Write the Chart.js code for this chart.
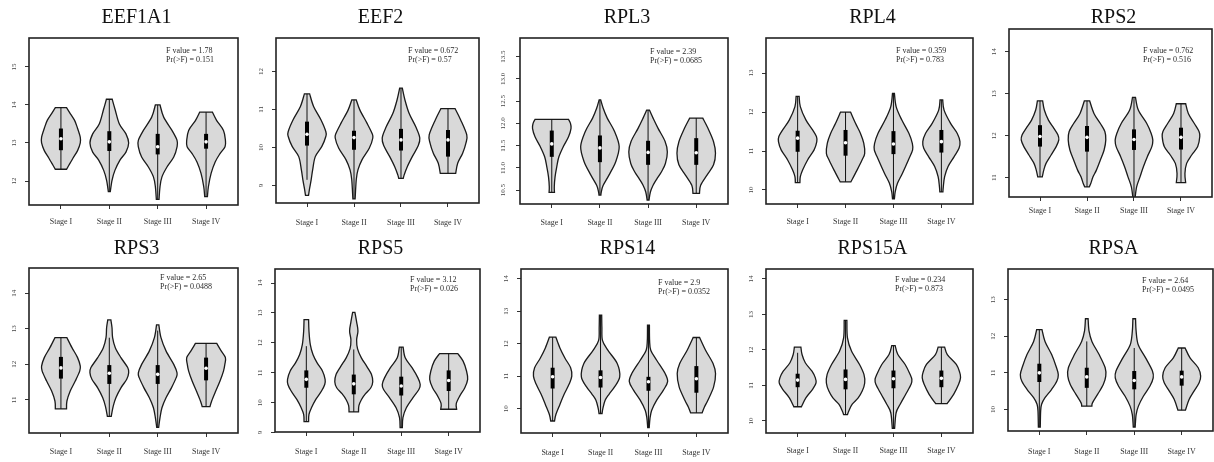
<!DOCTYPE html>
<html>
<head>
<meta charset="utf-8">
<script src="https://cdn.jsdelivr.net/npm/chart.js@4.4.1/dist/chart.umd.min.js"></script>
<style>
  html, body { margin: 0; padding: 0; background: #fff; overflow: hidden; }
  #wrap { position: relative; width: 1214px; height: 462px; }
  #wrap canvas { position: absolute; }
</style>
</head>
<body>
<div id="wrap"></div>
<script>
const genes = ['EEF1A1', 'EEF2', 'RPL3', 'RPL4', 'RPS2', 'RPS3', 'RPS5', 'RPS14', 'RPS15A', 'RPSA'];
const stages = ['Stage I', 'Stage II', 'Stage III', 'Stage IV'];
const fValues = ['1.78', '0.672', '2.39', '0.359', '0.762', '2.65', '3.12', '2.9', '0.234', '2.64'];
const pValues = ['0.151', '0.57', '0.0685', '0.783', '0.516', '0.0488', '0.026', '0.0352', '0.873', '0.0495'];

const yTickLabels = [
  ['12', '13', '14', '15'],
  ['9', '10', '11', '12'],
  ['10.5', '11.0', '11.5', '12.0', '12.5', '13.0', '13.5'],
  ['10', '11', '12', '13'],
  ['11', '12', '13', '14'],
  ['11', '12', '13', '14'],
  ['9', '10', '11', '12', '13', '14'],
  ['10', '11', '12', '13', '14'],
  ['10', '11', '12', '13', '14'],
  ['10', '11', '12', '13']
];
const yMin = [11.37, 8.54, 10.19, 9.64, 10.54, 10.07, 9.02, 9.25, 9.66, 9.41];
const yMax = [15.76, 12.88, 13.92, 13.9, 14.54, 14.71, 14.47, 14.3, 14.28, 13.84];

// violin outline per stage: [expression, relative half width], bottom to top
// box per stage: [whisker low, Q1, median, Q3, whisker high]
const eef1a1Violins = [
  [[12.31, .29], [12.45, .45], [12.6, .62], [12.8, .86], [13.0, 1], [13.15, 1], [13.4, .85], [13.6, .7], [13.8, .45], [13.93, .29]],
  [[11.72, .05], [12.02, .14], [12.28, .29], [12.55, .55], [12.76, .86], [13.0, 1], [13.24, .86], [13.5, .52], [13.86, .31], [14.15, .15]],
  [[11.52, .07], [11.85, .12], [12.11, .22], [12.37, .48], [12.63, .83], [12.9, 1], [13.07, 1], [13.33, .74], [13.68, .31], [14.0, .12]],
  [[11.59, .07], [11.85, .12], [12.2, .26], [12.5, .47], [12.72, .72], [12.9, .98], [13.07, 1], [13.33, .9], [13.59, .55], [13.81, .33]]
];
const eef1a1Boxes = [[12.31, 12.81, 13.11, 13.38, 13.93], [11.72, 12.79, 13.03, 13.31, 14.15], [11.52, 12.7, 12.9, 13.24, 14.0], [11.59, 12.85, 13.03, 13.24, 13.81]];

const eef2Violins = [
  [[8.74, .08], [8.93, .14], [9.15, .22], [9.41, .3], [9.76, .44], [10.03, .79], [10.29, 1], [10.42, 1], [10.73, .74], [11.08, .35], [11.41, .14]],
  [[8.65, .06], [9.15, .12], [9.41, .21], [9.68, .43], [9.98, .81], [10.25, 1], [10.38, .95], [10.64, .69], [10.99, .31], [11.25, .12]],
  [[9.19, .12], [9.28, .17], [9.5, .34], [9.76, .6], [10.03, .9], [10.25, 1], [10.55, .78], [10.9, .43], [11.25, .21], [11.56, .07]],
  [[9.32, .41], [9.59, .52], [9.85, .78], [10.11, .95], [10.33, 1], [10.73, .67], [11.02, .38]]
];
const eef2Boxes = [[9.15, 10.05, 10.35, 10.68, 11.41], [8.65, 9.94, 10.26, 10.44, 11.25], [9.19, 9.92, 10.2, 10.49, 11.56], [9.32, 9.76, 10.2, 10.46, 11.02]];

const rpl3Violins = [
  [[10.45, .14], [10.58, .13], [10.8, .17], [11.03, .26], [11.25, .37], [11.48, .6], [11.7, .87], [11.89, 1], [12.0, .97], [12.09, .87]],
  [[10.39, .05], [10.46, .07], [10.61, .17], [10.84, .47], [11.14, .82], [11.48, 1], [11.82, .76], [12.12, .38], [12.34, .17], [12.53, .04]],
  [[10.28, .05], [10.46, .12], [10.61, .26], [10.75, .45], [10.91, .69], [11.1, .9], [11.36, 1], [11.6, .88], [11.89, .52], [12.12, .26], [12.3, .07]],
  [[10.43, .17], [10.61, .23], [10.84, .56], [11.07, .9], [11.33, 1], [11.59, .9], [11.89, .61], [12.12, .34]]
];
const rpl3Boxes = [[10.45, 11.25, 11.54, 11.84, 12.09], [10.39, 11.13, 11.45, 11.73, 12.53], [10.28, 11.07, 11.35, 11.61, 12.3], [10.43, 11.07, 11.34, 11.67, 12.12]];

const rpl4Violins = [
  [[10.19, .12], [10.34, .14], [10.51, .26], [10.77, .52], [11.03, .86], [11.24, 1], [11.37, .98], [11.54, .78], [11.8, .43], [12.14, .14], [12.4, .08]],
  [[10.21, .28], [10.51, .6], [10.77, .86], [10.94, 1], [11.2, .95], [11.45, .78], [11.71, .52], [12.0, .26]],
  [[9.77, .05], [9.95, .09], [10.17, .21], [10.43, .47], [10.77, .78], [11.03, 1], [11.2, .98], [11.45, .81], [11.8, .43], [12.14, .14], [12.48, .05]],
  [[9.95, .08], [10.08, .1], [10.34, .17], [10.6, .35], [10.85, .66], [11.07, .92], [11.24, .97], [11.45, .83], [11.71, .48], [12.05, .14], [12.31, .07]]
];
const rpl4Boxes = [[10.19, 10.98, 11.33, 11.52, 12.4], [10.21, 10.88, 11.21, 11.54, 12.0], [9.77, 10.92, 11.18, 11.51, 12.48], [9.95, 10.96, 11.24, 11.54, 12.31]];

const rps2Violins = [
  [[11.02, .12], [11.18, .2], [11.34, .32], [11.54, .59], [11.74, .86], [11.9, 1], [12.02, .95], [12.18, .73], [12.37, .45], [12.61, .23], [12.83, .14]],
  [[10.78, .12], [10.86, .2], [11.02, .32], [11.18, .5], [11.42, .71], [11.66, .91], [11.9, 1], [12.1, .95], [12.29, .71], [12.53, .37], [12.83, .14]],
  [[10.49, .05], [10.78, .14], [11.02, .32], [11.26, .5], [11.5, .71], [11.74, .95], [11.9, 1], [12.06, .91], [12.29, .68], [12.61, .23], [12.91, .08]],
  [[10.88, .25], [11.1, .21], [11.34, .3], [11.54, .57], [11.74, .89], [11.98, 1], [12.1, .96], [12.29, .71], [12.53, .39], [12.76, .25]]
];
const rps2Boxes = [[11.02, 11.74, 11.98, 12.25, 12.83], [10.78, 11.62, 11.96, 12.23, 12.83], [10.49, 11.66, 11.91, 12.15, 12.91], [10.88, 11.67, 11.96, 12.19, 12.76]];

const rps3Violins = [
  [[10.75, .29], [10.97, .31], [11.25, .48], [11.53, .74], [11.81, .97], [11.95, 1], [12.19, .86], [12.47, .57], [12.75, .31]],
  [[10.54, .1], [10.82, .2], [11.06, .34], [11.34, .6], [11.58, .9], [11.76, 1], [11.91, .95], [12.19, .6], [12.47, .31], [12.75, .17], [13.03, .14], [13.25, .08]],
  [[10.23, .05], [10.5, .12], [10.78, .22], [11.06, .43], [11.34, .71], [11.62, .95], [11.76, 1], [12.0, .83], [12.38, .43], [12.75, .17], [13.11, .06]],
  [[10.81, .2], [10.97, .29], [11.25, .5], [11.53, .72], [11.81, .9], [12.0, .97], [12.19, 1], [12.38, .78], [12.59, .55]]
];
const rps3Boxes = [[10.75, 11.6, 11.9, 12.21, 12.75], [10.54, 11.45, 11.75, 11.98, 12.75], [10.23, 11.45, 11.72, 11.98, 12.95], [10.81, 11.55, 11.89, 12.19, 12.59]];

const rps5Violins = [
  [[9.37, .12], [9.61, .14], [9.83, .27], [10.11, .5], [10.39, .8], [10.61, .97], [10.78, .99], [11.06, .85], [11.33, .57], [11.61, .35], [11.94, .21], [12.39, .14], [12.78, .12]],
  [[9.69, .25], [9.9, .27], [10.1, .4], [10.3, .62], [10.5, .9], [10.7, 1], [10.95, .93], [11.2, .7], [11.5, .4], [11.8, .2], [12.1, .15], [12.4, .22], [12.7, .15], [13.02, .06]],
  [[9.17, .06], [9.5, .09], [9.83, .27], [10.17, .62], [10.44, .93], [10.61, 1], [10.83, .88], [11.17, .57], [11.5, .21], [11.86, .1]],
  [[9.78, .42], [9.97, .4], [10.22, .58], [10.5, .85], [10.78, 1], [11.06, .94], [11.39, .76], [11.64, .48]]
];
const rps5Boxes = [[9.37, 10.5, 10.78, 11.08, 11.89], [9.69, 10.28, 10.63, 10.94, 11.78], [9.17, 10.24, 10.56, 10.87, 11.86], [9.78, 10.39, 10.74, 11.08, 11.64]];

const rps14Violins = [
  [[9.62, .1], [9.82, .17], [10.13, .38], [10.44, .6], [10.74, .85], [11.0, 1], [11.26, .94], [11.56, .64], [11.87, .38], [12.2, .17]],
  [[9.85, .08], [10.0, .12], [10.26, .24], [10.45, .45], [10.67, .73], [10.98, 1], [11.39, .87], [11.8, .38], [12.1, .1], [12.5, .07], [12.88, .06]],
  [[9.42, .04], [9.7, .08], [9.95, .17], [10.26, .43], [10.57, .78], [10.83, 1], [11.08, .87], [11.49, .43], [11.8, .12], [12.1, .06], [12.57, .05]],
  [[9.87, .3], [10.05, .42], [10.26, .6], [10.67, .9], [11.08, 1], [11.39, .87], [11.8, .48], [12.19, .17]]
];
const rps14Boxes = [[9.62, 10.62, 10.98, 11.26, 12.2], [9.85, 10.65, 10.96, 11.18, 12.88], [9.42, 10.55, 10.83, 10.98, 12.57], [9.87, 10.49, 10.92, 11.31, 12.19]];

const rps15aViolins = [
  [[10.4, .2], [10.65, .43], [10.89, .78], [11.07, .96], [11.22, .92], [11.4, .75], [11.64, .4], [11.87, .23], [12.08, .17]],
  [[10.18, .1], [10.28, .17], [10.47, .35], [10.65, .66], [10.84, .87], [11.07, 1], [11.31, .96], [11.59, .73], [11.97, .31], [12.34, .1], [12.83, .07]],
  [[9.79, .06], [10.23, .14], [10.47, .35], [10.75, .64], [11.03, .92], [11.17, .96], [11.31, .87], [11.59, .61], [11.87, .23], [12.12, .09]],
  [[10.49, .3], [10.75, .64], [11.03, .9], [11.22, 1], [11.36, .96], [11.59, .78], [11.87, .31], [12.08, .17]]
];
const rps15aBoxes = [[10.4, 10.95, 11.15, 11.33, 11.92], [10.18, 10.89, 11.17, 11.45, 12.83], [9.79, 10.92, 11.19, 11.42, 12.12], [10.49, 10.95, 11.2, 11.42, 12.08]];

const rpsaViolins = [
  [[9.52, .05], [9.95, .07], [10.14, .12], [10.32, .3], [10.55, .65], [10.77, .92], [10.95, 1], [11.18, .88], [11.5, .65], [11.86, .3], [12.18, .14]],
  [[10.09, .27], [10.18, .3], [10.41, .57], [10.68, .87], [10.91, 1], [11.14, .97], [11.5, .65], [11.86, .27], [12.14, .12], [12.48, .07]],
  [[9.52, .05], [9.86, .1], [10.09, .22], [10.36, .48], [10.64, .83], [10.86, 1], [11.05, .96], [11.41, .6], [11.77, .21], [12.14, .1], [12.48, .07]],
  [[9.98, .2], [10.27, .39], [10.5, .65], [10.73, .92], [10.91, 1], [11.14, .87], [11.41, .44], [11.68, .18]]
];
const rpsaBoxes = [[9.52, 10.75, 11.0, 11.25, 12.18], [10.09, 10.59, 10.89, 11.14, 11.86], [9.52, 10.55, 10.79, 11.05, 11.68], [9.98, 10.65, 10.89, 11.06, 11.68]];

const violins = [eef1a1Violins, eef2Violins, rpl3Violins, rpl4Violins, rps2Violins, rps3Violins, rps5Violins, rps14Violins, rps15aViolins, rpsaViolins];
const boxes = [eef1a1Boxes, eef2Boxes, rpl3Boxes, rpl4Boxes, rps2Boxes, rps3Boxes, rps5Boxes, rps14Boxes, rps15aBoxes, rpsaBoxes];

// layout of each panel (plot box in page pixels: left, top, right, bottom)
const plotBoxes = [
  [29, 38, 238, 205], [276, 38, 479, 203], [520, 38, 728, 204], [766, 38, 973, 204], [1009, 29, 1212, 197],
  [29, 268, 238, 433], [275, 269, 480, 432], [521, 269, 728, 433], [766, 269, 973, 433], [1008, 269, 1213, 431]
];
const xLabelGap = [17, 20, 19, 18, 14, 19, 20, 20, 18, 21];
const annoLeft = [.656, .65, .625, .628, .66, .627, .659, .662, .623, .654];
const annoTop = [13, 13, 14, 13, 22, 10, 11, 14, 11, 12];

const SERIF = '"Liberation Serif", "Times New Roman", serif';
const MAX_HALF = 0.4;
Chart.defaults.font.family = SERIF;

function spline(ctx, pts) {
  for (let i = 0; i < pts.length - 1; i++) {
    const p0 = pts[i - 1] || pts[i], p1 = pts[i], p2 = pts[i + 1], p3 = pts[i + 2] || pts[i + 1];
    ctx.bezierCurveTo(
      p1.x + (p2.x - p0.x) / 6, p1.y + (p2.y - p0.y) / 6,
      p2.x - (p3.x - p1.x) / 6, p2.y - (p3.y - p1.y) / 6,
      p2.x, p2.y);
  }
}

function makePanelPlugin(p) {
  return {
    id: 'panel' + p,
    beforeDatasetsDraw(chart) {
      const {ctx, chartArea: ca, scales: {x, y}} = chart;
      ctx.save();
      ctx.beginPath();
      ctx.rect(ca.left, ca.top, ca.right - ca.left, ca.bottom - ca.top);
      ctx.clip();
      violins[p].forEach((prof, i) => {
        const c = i + 1;
        const right = prof.map(([v, w]) => ({x: x.getPixelForValue(c + w * MAX_HALF), y: y.getPixelForValue(v)}));
        const left = prof.map(([v, w]) => ({x: x.getPixelForValue(c - w * MAX_HALF), y: y.getPixelForValue(v)})).reverse();
        ctx.beginPath();
        ctx.moveTo(left[left.length - 1].x, left[left.length - 1].y);
        ctx.lineTo(right[0].x, right[0].y);
        spline(ctx, right);
        ctx.lineTo(left[0].x, left[0].y);
        spline(ctx, left);
        ctx.closePath();
        ctx.fillStyle = '#d9d9d9';
        ctx.fill();
        ctx.lineWidth = 1.3;
        ctx.strokeStyle = '#1a1a1a';
        ctx.stroke();
      });
      ctx.restore();
    },
    afterDraw(chart) {
      const {ctx, chartArea: ca} = chart;
      ctx.save();
      ctx.lineWidth = 1.6;
      ctx.strokeStyle = '#222';
      ctx.strokeRect(ca.left, ca.top, ca.right - ca.left, ca.bottom - ca.top);
      ctx.fillStyle = '#111';
      ctx.font = '20px ' + SERIF;
      ctx.textAlign = 'center';
      ctx.textBaseline = 'middle';
      ctx.fillText(genes[p], (ca.left + ca.right) / 2 + 3, 18);
      ctx.fillStyle = '#2a2a2a';
      ctx.font = '8px ' + SERIF;
      ctx.textAlign = 'left';
      const ax = ca.left + annoLeft[p] * (ca.right - ca.left);
      ctx.fillText('F value = ' + fValues[p], ax, ca.top + annoTop[p]);
      ctx.fillText('Pr(>F) = ' + pValues[p], ax, ca.top + annoTop[p] + 9);
      ctx.restore();
    }
  };
}

const wrap = document.getElementById('wrap');
genes.forEach((gene, p) => {
  const [bl, bt, br, bb] = plotBoxes[p];
  const rowTop = p < 5 ? 0 : 231;
  const canvas = document.createElement('canvas');
  const w = br - bl + 34;
  canvas.width = w;
  canvas.height = 231;
  canvas.style.left = (bl - 30) + 'px';
  canvas.style.top = rowTop + 'px';
  canvas.style.width = w + 'px';
  canvas.style.height = '231px';
  wrap.appendChild(canvas);

  // lower order is drawn on top: median dot > IQR bar > whisker
  const stats = boxes[p];
  const datasets = [];
  stats.forEach((s, i) => datasets.push({
    data: [{x: i + 1, y: s[0]}, {x: i + 1, y: s[4]}],
    order: 3, showLine: true, borderColor: '#111', borderWidth: 1, pointRadius: 0
  }));
  stats.forEach((s, i) => datasets.push({
    data: [{x: i + 1, y: s[1]}, {x: i + 1, y: s[3]}],
    order: 2, showLine: true, borderColor: '#000', borderWidth: 4, borderCapStyle: 'butt', pointRadius: 0
  }));
  datasets.push({
    data: stats.map((s, i) => ({x: i + 1, y: s[2]})),
    order: 1, showLine: false, pointRadius: 1.8, pointBackgroundColor: '#fff', pointBorderWidth: 0
  });

  const tickVals = yTickLabels[p].map(Number);
  new Chart(canvas, {
    type: 'scatter',
    data: { datasets },
    options: {
      responsive: false,
      animation: false,
      events: [],
      layout: { padding: { left: 0, right: 4, top: bt - rowTop, bottom: 231 - 26 - (bb - rowTop) } },
      plugins: { legend: { display: false }, tooltip: { enabled: false }, title: { display: false } },
      scales: {
        x: {
          type: 'linear', min: 0.34, max: 4.66,
          afterBuildTicks: s => { s.ticks = stages.map((_, i) => ({ value: i + 1 })); },
          afterFit: s => { s.height = 26; },
          ticks: {
            callback: (v, i) => stages[i], autoSkip: false, maxRotation: 0,
            padding: xLabelGap[p] - 8.5, color: '#333', font: { size: 8 }
          },
          grid: { display: true, drawOnChartArea: false, drawTicks: true, tickLength: 4, color: '#333' },
          border: { display: false }
        },
        y: {
          type: 'linear', min: yMin[p], max: yMax[p],
          afterBuildTicks: s => { s.ticks = tickVals.map(v => ({ value: v })); },
          afterFit: s => { s.width = 30; },
          ticks: {
            callback: (v, i) => yTickLabels[p][i], autoSkip: false,
            minRotation: 90, maxRotation: 90, crossAlign: 'center',
            padding: 7, color: '#444', font: { size: 7 }
          },
          grid: { display: true, drawOnChartArea: false, drawTicks: true, tickLength: 4, color: '#333' },
          border: { display: false }
        }
      }
    },
    plugins: [makePanelPlugin(p)]
  });
});
</script>
</body>
</html>
